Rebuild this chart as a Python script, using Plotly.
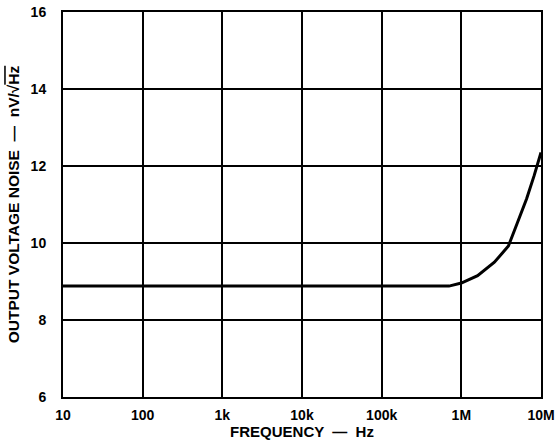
import plotly.graph_objects as go

freq_hz = [10, 100, 1e3, 1e4, 1e5, 7e5, 1.0e6, 1.6e6, 2.6e6, 3.9e6, 5.0e6, 6.6e6, 8.2e6, 1.0e7]
noise_nv = [8.88, 8.88, 8.88, 8.88, 8.88, 8.88, 8.96, 9.15, 9.5, 9.92, 10.5, 11.15, 11.75, 12.35]

x_tickvals = [10, 100, 1e3, 1e4, 1e5, 1e6, 1e7]
x_ticktext = ["10", "100", "1k", "10k", "100k", "1M", "10M"]
y_tickvals = [6, 8, 10, 12, 14, 16]
y_ticktext = ["6", "8", "10", "12", "14", "16"]

font_family = "Liberation Sans, Arial, Helvetica, sans-serif"

fig = go.Figure()
fig.add_trace(go.Scatter(
    x=freq_hz, y=noise_nv, mode="lines",
    line=dict(color="black", width=3),
    showlegend=False, hoverinfo="skip",
))

fig.update_layout(
    width=556, height=447,
    margin=dict(l=63, r=15, t=12, b=50, autoexpand=False),
    plot_bgcolor="white", paper_bgcolor="white",
    font=dict(family=font_family, color="black", size=13),
)
fig.update_xaxes(
    type="log", range=[1, 7], automargin=False,
    tickvals=x_tickvals, ticktext=["<b>%s</b>" % t for t in x_ticktext],
    showgrid=True, gridcolor="black", gridwidth=2,
    showline=True, linecolor="black", linewidth=2, mirror=True,
    ticks="outside", ticklen=4, tickcolor="rgba(0,0,0,0)",
    tickfont=dict(size=14, family=font_family),
    title=dict(text="<b>FREQUENCY \u00a0— \u00a0Hz</b>", font=dict(size=15), standoff=0),
    zeroline=False,
)
fig.update_yaxes(
    range=[6, 16], tickvals=y_tickvals, automargin=False,
    ticktext=["<b>%s</b>" % t for t in y_ticktext],
    showgrid=True, gridcolor="black", gridwidth=2,
    showline=True, linecolor="black", linewidth=2, mirror=True,
    ticks="outside", ticklen=12, tickcolor="rgba(0,0,0,0)",
    tickfont=dict(size=14, family=font_family),
    title=dict(text="<b>OUTPUT VOLTAGE NOISE \u00a0— \u00a0nV/√<span style='text-decoration:overline'>Hz</span></b>",
               font=dict(size=15.5), standoff=7),
    zeroline=False,
)

fig.write_html("out.html", config={"displayModeBar": False},
               post_script="document.body.style.margin='0';")
